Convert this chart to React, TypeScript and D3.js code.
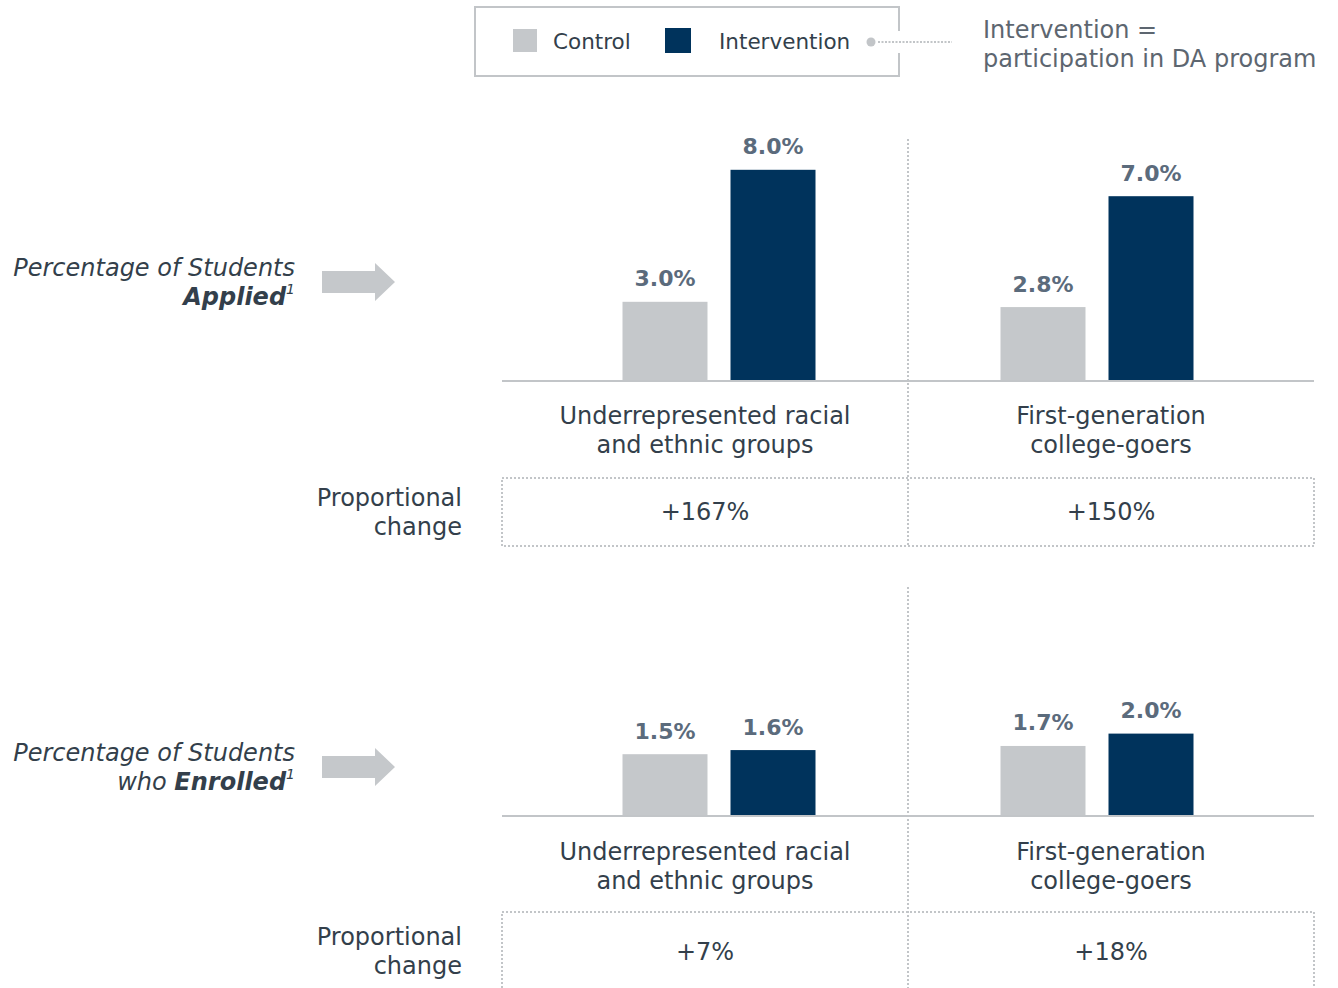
import React from "react";
import * as d3 from "d3";

// ---- data ----
const groups: string[] = ["Underrepresented racial and ethnic groups", "First-generation college-goers"];
const groupLines: string[][] = [["Underrepresented racial", "and ethnic groups"], ["First-generation", "college-goers"]];
const series: string[] = ["Control", "Intervention"];

const appliedControl: number[] = [3.0, 2.8];
const appliedIntervention: number[] = [8.0, 7.0];
const enrolledControl: number[] = [1.5, 1.7];
const enrolledIntervention: number[] = [1.6, 2.0];

const appliedChange: string[] = ["+167%", "+150%"];
const enrolledChange: string[] = ["+7%", "+18%"];

const W = 1338;
const H = 988;

const C_CONTROL = "#c5c8cb";
const C_INTERV = "#00335c";
const C_TEXT = "#333f4b";
const C_VALUE = "#5b6b7c";
const C_GRID = "#c2c5c8";
const FONT = "'DejaVu Sans', Verdana, sans-serif";
const FS = 24;

const x0 = d3.scaleBand<string>().domain(groups).range([502, 1314]);
// bar pair centres sit a little inside each panel
const pairCenter = d3.scalePoint<string>().domain(groups).range([719, 1097]);
const x1 = d3.scaleBand<string>().domain(series).range([-96.5, 96.5]).paddingInner(0.213);

type Panel = {
    title: string,
    bold: string,
    control: number[],
    intervention: number[],
    change: string[],
    y: d3.ScaleLinear<number, number>,
    base: number,
    dividerTop: number,
    dividerBottom: number,
    labelY: number,
    boxTop: number,
    boxBottom: number,
    changeY: number,
    propY: number,
    leftY: number,
};

const panels: Panel[] = [
    {
        title: "Percentage of Students", bold: "Applied",
        control: appliedControl, intervention: appliedIntervention, change: appliedChange,
        y: d3.scaleLinear().domain([0, 10]).range([381, 117]),
        base: 381, dividerTop: 139, dividerBottom: 546, labelY: 416,
        boxTop: 478, boxBottom: 546, changeY: 512, propY: 498, leftY: 268,
    },
    {
        title: "Percentage of Students", bold: "Enrolled",
        control: enrolledControl, intervention: enrolledIntervention, change: enrolledChange,
        y: d3.scaleLinear().domain([0, 4]).range([816, 651.2]),
        base: 816, dividerTop: 587, dividerBottom: 992, labelY: 852,
        boxTop: 912, boxBottom: 992, changeY: 952, propY: 937, leftY: 753,
    },
];

function Arrow({ cy }: { cy: number }) {
    const x = 322, shaftEnd = 375, tip = 395;
    const d = `M${x},${cy - 11} L${shaftEnd},${cy - 11} L${shaftEnd},${cy - 19} L${tip},${cy} L${shaftEnd},${cy + 19} L${shaftEnd},${cy + 11} L${x},${cy + 11} Z`;
    return <path d={d} fill={C_CONTROL} />;
}

function PanelView({ p, idx }: { p: Panel, idx: number }) {
    const left = x0.range()[0];
    const right = x0.range()[1];
    const mid = x0(groups[1])!;
    return <g>
        {/* left label */}
        <text x={295} y={p.leftY} fontSize={FS} fontStyle="italic" fill={C_TEXT} textAnchor="end" dominantBaseline="central">{p.title}</text>
        <text x={295} y={p.leftY + 29} fontSize={FS} fontStyle="italic" fill={C_TEXT} textAnchor="end" dominantBaseline="central">
            {idx === 1 ? <tspan>who </tspan> : null}
            <tspan fontWeight="bold">{p.bold}</tspan>
            <tspan fontSize={14} dy={-8}>1</tspan>
        </text>
        <Arrow cy={p.leftY + 14} />

        {/* divider */}
        <line x1={mid} x2={mid} y1={p.dividerTop} y2={p.dividerBottom} stroke={C_GRID} strokeWidth={2} strokeDasharray="2,2" />

        {/* bars */}
        {groups.map((g, i) => {
            const cx = pairCenter(g)!;
            const vals = [p.control[i], p.intervention[i]];
            return <g key={g}>
                {series.map((s, j) => {
                    const bx = cx + x1(s)!;
                    const top = p.y(vals[j]);
                    return <g key={s}>
                        <rect x={bx} y={top} width={x1.bandwidth()} height={p.base - top} fill={j === 0 ? C_CONTROL : C_INTERV} />
                        <text x={bx + x1.bandwidth() / 2} y={top - 23} fontSize={22} fontWeight="bold" fill={C_VALUE} textAnchor="middle" dominantBaseline="central">
                            {vals[j].toFixed(1) + "%"}
                        </text>
                    </g>;
                })}
                {groupLines[i].map((ln, k) => (
                    <text key={k} x={x0(g)! + x0.bandwidth() / 2} y={p.labelY + k * 29} fontSize={FS} fill={C_TEXT} textAnchor="middle" dominantBaseline="central">{ln}</text>
                ))}
                <text x={x0(g)! + x0.bandwidth() / 2} y={p.changeY} fontSize={FS} fill={C_TEXT} textAnchor="middle" dominantBaseline="central">{p.change[i]}</text>
            </g>;
        })}

        {/* baseline */}
        <line x1={left} x2={right} y1={p.base} y2={p.base} stroke={C_GRID} strokeWidth={2} />

        {/* proportional change box */}
        <rect x={left} y={p.boxTop} width={right - left} height={p.boxBottom - p.boxTop} fill="none" stroke={C_GRID} strokeWidth={2} strokeDasharray="2,2" />
        <text x={462} y={p.propY} fontSize={FS} fill={C_TEXT} textAnchor="end" dominantBaseline="central">Proportional</text>
        <text x={462} y={p.propY + 29} fontSize={FS} fill={C_TEXT} textAnchor="end" dominantBaseline="central">change</text>
    </g>;
}

export default function App() {
    return <svg width={W} height={H} style={{ position: "absolute", left: 0, top: 0, background: "#fff" }} fontFamily={FONT}>
        {/* legend */}
        <path d="M899,31 L899,7 L475,7 L475,76 L899,76 L899,53" fill="none" stroke={C_GRID} strokeWidth={2} />
        <rect x={513} y={29} width={24} height={23} fill={C_CONTROL} />
        <text x={553} y={41} fontSize={21.5} fill={C_TEXT} dominantBaseline="central">{series[0]}</text>
        <rect x={665} y={28} width={26} height={25} fill={C_INTERV} />
        <text x={719} y={41} fontSize={21.5} fill={C_TEXT} dominantBaseline="central">{series[1]}</text>
        <circle cx={871} cy={42} r={4.5} fill={C_GRID} />
        <line x1={878} x2={952} y1={42} y2={42} stroke={C_GRID} strokeWidth={2} strokeDasharray="2,1.5" />
        <text x={983} y={30} fontSize={24} fill="#5d6670" dominantBaseline="central">Intervention =</text>
        <text x={983} y={59} fontSize={24} fill="#5d6670" dominantBaseline="central">participation in DA program</text>

        {panels.map((p, i) => <PanelView key={i} p={p} idx={i} />)}
    </svg>;
}
